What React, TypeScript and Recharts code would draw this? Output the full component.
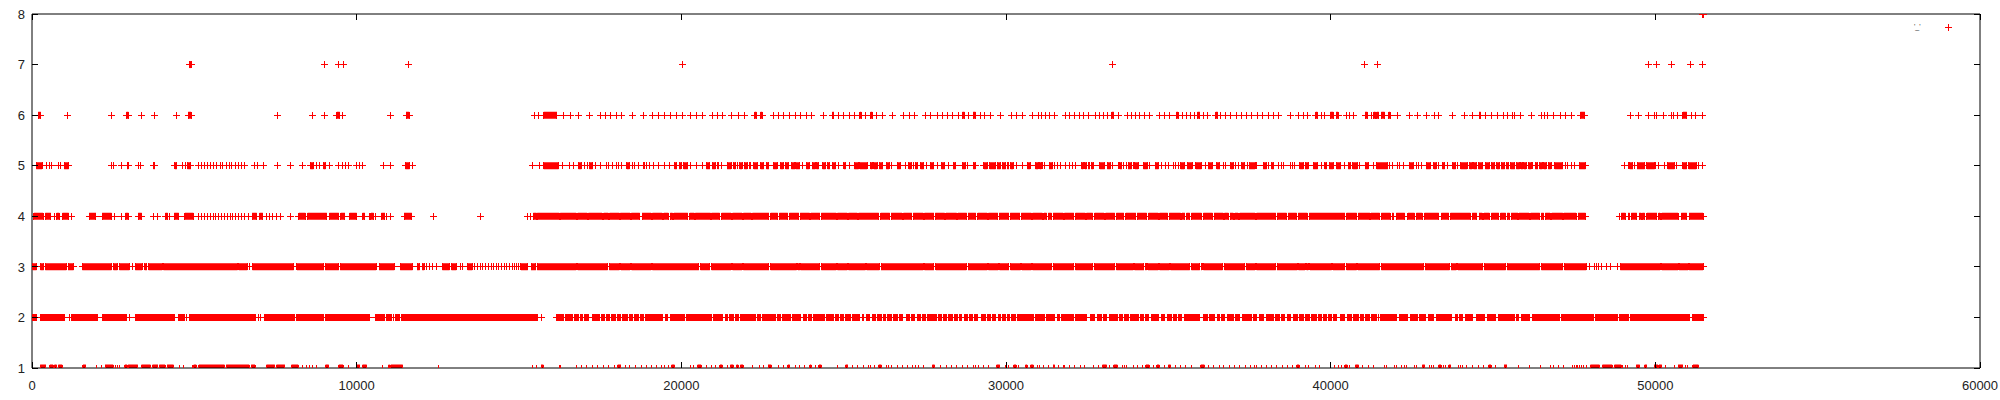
import { LineChart, Line, XAxis, YAxis, Legend } from 'recharts';

type Run = number | [number, number];

// x positions are read in hundreds; a pair is a run of markers packed so close they look solid
const X_UNIT = 100;
const xTicks = [0, 10000, 20000, 30000, 40000, 50000, 60000];
const yTicks = [1, 2, 3, 4, 5, 6, 7, 8];
const legendLabel = "'_'";

const level8: Run[] = [[514.5, 514.9]];

const level7: Run[] = [[48.5, 49.0], 90.1, 94.3, 96.0, 116.0, 200.4, 332.7, 410.5, 414.3, 497.8, 500.4, 505.0, 510.8, 514.5];

const level6: Run[] = [
  [1.9, 2.7], 10.9, 24.5, [29.1, 29.7], 33.7, 37.7, 44.6, [48.1, 49.0], 75.6, 86.3, 90.1, [93.9, 94.8], 95.7,
  110.3, [115.2, 116.2],
  154.7, 155.9, [157.6, 161.7], 163.8, 165.9, 168.2, 171.8, 175.0, 176.7, 178.3, 179.9, 181.7, 185.0, 188.4, 191.2, 193.0,
  194.9, 196.6, 198.4, 200.4, 202.8, 204.6, 206.5,
  209.5, 211.0, 212.6, 215.6, 217.7, 219.5, [222.6, 223.1], [224.4, 224.9], 228.3, 230.0, 231.6, 233.4, 235.2, 236.7, 238.6,
  240.1, 243.9, [246.5, 247.0], 248.3, 250.1, 251.9, 253.3, [255.0, 255.4], 256.7, [258.3, 258.8], 260.1, 261.9, 265.0, 268.5,
  270.4, 271.9, 275.2, 276.8, 278.8, 280.4, 281.9, 283.6, 285.3, [286.6, 287.2], 288.6, [289.9, 290.6], 292.0, 293.4, 295.3,
  298.3, 301.6, 303.2, 305.0, 308.3, 309.9,
  310.9, 312.3, 313.5, 315.0, 318.3, 319.7, 321.0, 322.5, 324.0, 325.3, 327.7, 328.9, 329.9, 331.3, [332.6, 333.2], 334.6,
  337.4, 338.7, 339.9, 341.2, 342.8, 344.3, 347.4, 348.7, 350.3, [352.5, 353.0], 354.3, 355.6, 356.8, 358.2, [359.0, 359.7],
  360.8, 362.1, [364.6, 365.2], 366.2, 367.7, 369.3, 371.0, 372.5, 374.1, 375.6, 377.4, 379.0, 380.8, 382.3, 383.9, 387.5,
  390.2, 391.6, 392.8, [395.4, 395.9], 397.2, 398.2, [399.9, 400.8], [401.7, 402.3], 404.9, 405.9, 407.0, [410.6, 411.3], 412.6,
  [413.3, 413.8], [414.2, 414.8], [415.6, 416.6], [417.9, 418.3], 420.7, 424.3, 426.7, 429.4, 432.1, 433.1, 437.4, 441.2, 443.8,
  [445.7, 446.2], 447.6, 449.5, 451.3, 453.1, 454.6, 455.9, 456.6, 458.4, 461.8, 465.0, 465.9, 466.9, 468.7, 470.7, 472.4,
  474.3, [476.9, 478.3], 492.2, 494.7, 497.8, 499.6, 500.3, 502.6, 505.1, 505.7, 506.7, [508.5, 509.7], 511.1, 512.4, 514.5,
];

const level5: Run[] = [
  [1.3, 3.1], 4.6, 5.4, 6.0, 8.1, 8.7, [9.9, 11.3], 24.5, 25.2, 27.5, [29.3, 29.7], 32.9, 33.5, [37.4, 37.8], [44.0, 44.6],
  46.5, 47.3, [47.9, 48.9], 51.2, 52.2, 53.2, 54.2, 55.1, 56.0, 56.9, 58.0, 58.8, 59.8, 60.7, 61.6, 62.6, 63.6, 64.5, 65.5,
  68.6, 69.4, 71.3, 75.6, 79.5, 83.4, [85.7, 86.7], 87.7, 88.5, [89.8, 90.4], 91.6, 94.3, 95.6, 96.7, 97.6, 100.1, 100.9, 101.8,
  108.3, 110.4, [115.0, 116.3], 117.3,
  154.2, 156.3, [157.6, 162.2], 163.5, 165.5, 166.7, [168.3, 169.2], 170.2, 171.0, [171.7, 172.7], 173.6, 175.1, 177.0, 177.7,
  178.9, 179.9, 180.7, 181.6, [183.2, 184.0], 185.1, 185.7, 186.7, 188.2, 188.8, 189.4, 190.3, 191.3, 193.0, 194.9, 196.5,
  [197.9, 198.6], [199.4, 199.9], [200.7, 202.0], 202.9, 204.6, 206.5,
  [207.7, 208.8], [209.5, 210.5], [211.2, 211.5], 212.3, [214.1, 215.3], [216.2, 216.7], 217.2, [218.0, 218.7], [219.4, 220.3],
  [221.1, 221.3], [222.3, 223.6], [224.4, 225.4], [226.2, 227.0], [228.3, 229.5], [230.5, 231.4], [232.1, 233.1], [233.9, 235.0],
  [235.2, 236.5], 237.2, [238.5, 239.4], [240.3, 241.3], [241.6, 242.3], [243.5, 244.4], [245.1, 245.7], [246.6, 247.5], 248.3,
  [250.1, 250.6], 251.8, [253.3, 254.6], [255.0, 257.2], [258.3, 258.8], [259.3, 260.3], [261.0, 262.1], [263.1, 264.0], 264.6,
  [266.5, 267.5], 269.1, [270.1, 270.8], 271.4, [272.1, 272.7], [273.7, 274.7], 275.4, [276.6, 277.8], 278.8, [280.1, 281.1],
  282.4, [283.7, 284.5], [286.5, 287.5], 288.1, [289.9, 290.6], [293.2, 294.2], [295.0, 296.8], [297.3, 298.3], [298.8, 299.9],
  [300.4, 300.9], [301.4, 302.2], 303.3, 305.0, [306.6, 307.4], [309.1, 309.9],
  [310.4, 310.9], 311.2, 312.0, [313.3, 314.3], 315.0, 315.8, 316.8, 318.4, 319.7, 320.5, 321.5, [323.3, 323.8], [324.3, 324.8],
  [325.3, 325.8], [326.3, 326.9], [328.9, 330.4], [331.2, 332.2], 332.8, 334.6, [335.1, 335.7], 336.3, 337.1, [337.6, 338.7],
  339.2, [339.7, 340.7], [342.3, 343.6], 344.3, [345.9, 347.0], 347.8, 349.2, 350.0, 351.5, 352.3, 353.0, [353.8, 354.9],
  [355.9, 357.3], [358.5, 360.2], 361.6, [362.3, 363.6], [364.9, 365.9], 366.9, 367.7, [369.2, 370.0], 370.6, 371.5,
  [372.6, 373.6], 374.3, [374.9, 376.7], 377.2, [379.2, 380.3], 381.0, [381.8, 382.5], 383.9, 384.9, 385.6, 387.5, 388.3, 389.0,
  [390.5, 391.6], [392.1, 393.1], [394.6, 396.0], 397.2, [398.2, 398.8], [399.6, 400.8], [401.8, 403.1], 404.4, [405.4, 406.1],
  [406.8, 408.2], 409.0, [410.6, 411.6], 413.1,
  [414.2, 417.6], 418.1, 419.0, 420.7, 421.2, 422.4, [424.3, 425.5], 426.4, 427.2, 427.9, [429.4, 430.7], [431.8, 432.5], 433.2,
  [434.4, 435.1], 436.1, [437.6, 438.5], 439.0, [440.0, 442.0], [442.8, 443.6], [444.0, 445.0], [445.5, 446.9], [447.6, 448.9],
  [449.5, 450.6], [451.2, 452.0], [452.5, 453.6], [454.1, 454.9], [455.4, 456.7], [457.2, 458.2], [458.6, 459.2], [459.5, 460.2],
  [461.0, 461.8], 462.3, [463.0, 463.8], [464.4, 465.2], [465.6, 466.4], [467.0, 467.9], [469.0, 471.5], 472.3, 473.1, 474.1,
  475.2, [476.5, 478.5], 490.5, 491.6, [492.1, 493.1], 493.6, [494.4, 496.7], [497.4, 499.8], 500.1, 501.1, 502.9,
  [503.9, 505.9], 506.5, [508.5, 509.7], [510.3, 512.6], 513.4, 514.5,
];

const level4: Run[] = [
  [0.6, 3.4], [4.1, 5.8], 6.8, [7.6, 8.4], [9.4, 11.3], 12.2, [17.6, 19.7], [21.6, 24.5], 25.4, 27.6, [28.8, 29.7],
  [32.7, 33.8], 37.4, 38.8, [41.1, 41.8], 42.5, [43.8, 45.2], [47.1, 49.7], 51.2, 52.2, 53.2, 54.0, 55.1, 55.9, 56.6, 57.4,
  58.5, 59.2, 60.1, 61.0, 61.8, 62.7, 63.7, 64.6, 65.6, 66.6, [67.8, 69.2], [70.1, 71.1], 72.1, 73.0, 74.1, 75.3, 76.6, 79.5,
  [82.2, 84.2], [84.9, 90.8], [91.6, 94.5], [95.1, 96.4], [97.8, 100.0], [101.8, 102.5],
  103.8, [104.4, 105.2], 105.7, [107.6, 108.7], 109.3, 110.5, [114.6, 117.0], 123.7, 138.2,
  152.5, 153.4, [154.4, 155.4], [155.6, 162.4], [162.7, 167.6], [168.1, 171.0], [171.4, 175.6], [176.1, 177.5], [177.9, 180.9],
  [181.2, 184.2], [184.6, 187.2], [187.9, 190.7], [191.1, 194.1], [194.6, 196.0], [196.6, 197.3], [197.7, 202.0], [202.6, 204.0],
  [204.3, 209.0], [209.3, 211.8], [212.4, 215.3], [215.8, 218.7], [219.1, 221.5], [221.9, 227.0], [227.5, 229.7], [230.2, 232.8],
  [233.3, 236.2], [236.6, 239.5], [239.9, 242.7], [243.1, 247.7], [248.1, 251.1], [251.5, 254.2], [254.6, 260.8], [261.4, 264.2],
  [264.6, 268.0], [268.4, 271.0], [271.4, 274.5], [274.9, 277.8], [278.2, 281.1], [281.5, 284.8], [285.2, 287.9], [288.3, 290.7],
  [291.3, 294.2], [294.6, 297.5], [297.9, 300.9], [301.3, 304.3], [304.7, 307.8], [308.2, 311.2],
  [311.7, 312.5], [313.0, 314.0], [314.5, 317.6], [318.0, 320.9], [321.4, 324.4], [324.8, 326.7], [327.3, 330.2], [330.7, 333.5],
  [334.0, 336.3], [336.9, 340.0], [340.4, 343.3], [343.9, 346.9], [347.3, 349.8], [350.3, 353.8], [354.2, 355.1], [355.6, 356.6],
  [357.1, 360.2], [360.8, 363.6], [364.1, 366.9], [367.3, 368.5], [369.0, 370.0], [370.5, 371.5], [372.0, 376.7], [377.2, 383.1],
  [383.5, 386.4], [386.9, 389.5], [390.0, 392.8], [393.4, 404.4], [404.9, 408.0], [408.5, 412.1], [412.4, 415.1],
  [415.6, 418.3], [418.9, 419.4], [420.2, 422.8], [423.8, 425.8], [426.4, 428.2], [428.9, 433.3], [434.1, 436.4], [436.9, 443.0],
  [443.6, 445.0], [445.7, 446.7], [447.2, 448.9], [449.5, 451.8], [452.3, 453.9], [454.4, 455.1], [455.6, 457.7], [458.0, 461.1],
  [461.6, 464.4], [464.9, 465.6], [466.1, 467.6], [468.1, 471.5], [471.8, 475.6], [476.2, 478.5],
  489.0, [489.5, 490.8], [491.6, 492.1], [492.6, 494.3], [495.0, 495.7], [496.0, 496.7], [497.4, 500.5], [501.0, 501.5],
  [502.0, 507.0], [508.0, 509.7], [510.4, 514.7],
];

const level3: Run[] = [
  [0.2, 1.4], [2.6, 3.6], [4.1, 10.6], [11.1, 12.8], [15.5, 24.5], [25.1, 26.3], [26.9, 30.0], 31.0, [31.8, 33.9], [34.7, 35.4],
  [35.9, 40.1], [40.5, 63.3], [63.7, 66.3], 66.9, [67.9, 80.6], [81.6, 89.9], [90.3, 94.5], [94.9, 106.0],
  [106.9, 111.6], [113.4, 117.2], [118.6, 119.4], [120.2, 120.8], 121.4, 122.5, 123.4, 124.7, [126.4, 128.6], [129.2, 130.7],
  132.1, 132.7, [134.2, 135.6], 136.4, 137.3, 138.1, 138.9, 139.7, 140.5, 141.4, 142.2, 143.0, 143.8, 144.6, 145.5, 146.3,
  147.1, 147.9, 148.6, 149.2, 149.8, [150.6, 152.7], [153.7, 155.2], [155.6, 167.6], [168.1, 177.3], [177.8, 180.9],
  [181.4, 184.2], [184.7, 190.7], [191.1, 205.4], [205.9, 208.8],
  [209.3, 215.3], [215.8, 218.7], [219.1, 227.0], [227.5, 235.5], [235.9, 236.5], [236.7, 242.7], [243.1, 247.7], [248.1, 251.1],
  [251.5, 256.7], [257.1, 261.0], [261.5, 274.5], [274.9, 277.8], [278.4, 287.8], [288.3, 294.2], [294.6, 297.6], [298.0, 300.9],
  [301.4, 304.5], [304.9, 307.8], [308.2, 314.0],
  [314.5, 320.9], [321.4, 326.7], [327.3, 333.5], [334.0, 339.2], [339.6, 342.5], [342.9, 343.3], [343.7, 346.9], [347.3, 350.3],
  [350.7, 356.6], [357.1, 359.7], [360.1, 360.4], [360.8, 366.7], [367.3, 373.6], [374.1, 376.7], [377.2, 383.1], [383.5, 389.7],
  [390.1, 392.1], [392.6, 393.1], [393.6, 400.3], [400.7, 404.4], [404.9, 408.0], [408.4, 415.1],
  [415.6, 428.6], [429.1, 436.6], [437.1, 438.7], [439.2, 446.9], [447.3, 453.9], [454.4, 464.4], [464.9, 471.5], [472.0, 478.7],
  479.6, 481.3, 482.0, 482.6, 483.3, 484.9, 486.1, 488.5, [489.2, 501.5], [502.0, 507.0], [507.3, 510.1], [510.4, 514.7],
];

const level2: Run[] = [
  [0.2, 1.4], [2.6, 10.1], 11.4, [12.1, 20.3], [21.6, 24.7], [25.1, 29.2], 29.9, [31.8, 44.0], [45.0, 47.0], 47.7, [48.5, 68.4],
  68.8, 69.7, 70.5, [71.7, 81.0], [81.6, 89.9], [90.3, 103.9],
  [105.7, 108.7], [109.1, 110.3], 110.8, 111.4, 111.9, [112.4, 113.1], [113.9, 115.2], [115.7, 155.7], 157.0,
  161.4, [161.9, 163.6], [164.3, 166.6], [167.0, 168.3], [168.9, 169.6], [170.1, 171.4], [172.5, 173.2], [173.7, 174.8],
  [175.5, 176.3], [176.9, 177.9], [178.5, 179.6], [180.2, 181.4], [182.0, 183.5], [184.0, 185.0], [185.7, 186.7], [187.4, 188.4],
  [189.0, 189.8], [190.2, 191.3], [191.7, 192.7], [193.1, 194.3], [195.0, 195.8], [196.6, 198.4], [198.9, 201.1], [201.5, 203.0],
  [203.4, 204.6], [205.0, 206.4],
  [206.9, 209.2], [210.0, 211.0], [211.5, 212.6], [213.6, 214.3], [214.8, 216.0], [216.7, 217.7], [218.2, 220.3], [220.8, 222.8],
  [223.4, 224.4], [224.9, 226.1], [226.6, 229.0], [229.5, 230.5], [231.1, 232.4], [232.8, 233.6], [234.1, 235.5], [235.9, 236.7],
  [237.5, 238.6], [239.1, 240.1], [240.6, 241.8], [242.1, 244.1], [244.7, 247.0], [247.5, 248.5], [249.0, 250.1], [250.6, 252.1],
  [252.6, 254.9], [255.7, 256.2], [256.9, 258.1], [258.8, 259.8], [260.3, 261.6], [262.2, 263.0], [263.4, 264.6], [265.5, 266.5],
  [267.3, 268.0], [269.3, 270.4], [270.9, 271.9], [272.7, 273.7], [274.2, 275.2], [275.9, 277.0], [277.5, 278.5], [279.1, 280.1],
  [280.7, 281.7], [282.4, 283.4], [284.0, 285.0], [285.6, 286.4], [287.2, 288.1], [288.9, 289.6], [290.3, 291.1], [292.5, 293.7],
  [294.2, 295.3], [295.9, 296.9], [297.6, 298.3], [298.8, 299.9], [300.4, 301.2], [301.8, 303.0], [303.6, 305.0], [305.5, 306.6],
  [307.0, 308.4], [309.1, 310.2],
  [310.6, 312.0], [312.5, 315.0], [315.8, 316.6], [317.1, 320.9], [321.5, 324.8], [326.0, 327.4], [328.1, 329.4], [329.9, 331.0],
  [331.8, 332.8], [333.2, 334.3], [334.9, 335.9], [336.4, 337.6], [338.4, 340.7], [341.5, 342.5], [342.9, 343.8], [344.8, 346.9],
  [347.9, 348.9], [349.8, 351.0], [351.5, 352.5], [353.0, 354.1], [354.9, 356.4], [356.9, 357.7], [358.2, 359.7], [360.8, 362.0],
  [362.8, 364.3], [365.1, 365.9], [366.5, 367.4], [368.1, 370.0], [370.6, 372.0], [372.9, 374.1], [374.4, 375.6], [376.2, 377.2],
  [378.0, 379.2], [380.1, 381.1], [381.6, 382.5], [382.9, 384.2], [384.9, 385.9], [386.6, 387.7], [388.7, 389.7], [390.5, 391.6],
  [392.4, 393.6], [394.1, 395.5], [396.2, 397.2], [397.7, 398.8], [399.3, 400.3], [400.8, 401.8], [402.9, 404.4], [405.2, 406.5],
  [407.0, 408.5], [409.2, 410.0], [410.6, 411.9], [412.6, 414.0],
  414.7, [415.3, 415.9], [416.3, 416.9], [417.3, 420.4], [421.2, 423.8], [424.6, 426.6], [427.4, 429.2], [430.2, 431.8],
  [432.5, 437.2], [438.3, 439.1], [439.7, 440.7], [441.6, 443.8], [444.8, 445.9], [446.3, 447.4], [448.4, 450.8], [451.8, 453.1],
  [453.4, 454.6], [454.9, 456.6], [457.2, 457.9], [458.7, 461.3], [462.3, 463.6], [464.0, 465.2], [465.6, 466.7], [467.1, 468.3],
  [468.7, 469.5], [469.7, 470.5], [471.0, 472.2], [472.6, 477.2], [477.5, 481.0], [481.6, 484.7], [485.1, 488.5], [489.0, 490.2],
  [490.5, 491.6], [492.3, 497.4], [497.7, 499.1], [499.5, 510.4], [511.3, 513.4], [513.6, 514.7],
];

const level1: Run[] = [
  [2.5, 4.3], [5.5, 6.5], [6.9, 7.6], [8.1, 9.3], [15.7, 16.6], 19.9, 21.5, [22.5, 25.0], 25.6, 26.3, 27.0, [28.6, 29.3],
  [29.6, 32.6], [33.7, 36.5], [37.1, 38.8], [39.2, 41.0], [41.6, 43.6], 45.5, 46.6, 49.4, [49.8, 50.6], [51.4, 59.3],
  [59.8, 66.9], [67.5, 68.7], [72.2, 74.8], [75.3, 77.9], [79.9, 82.0], 83.4, 84.4, 85.6, 86.4, 87.7, [90.4, 91.4], [94.5, 95.8],
  97.6, [100.0, 101.0], [101.8, 103.1],
  108.0, [109.8, 110.2], [110.5, 114.2], 125.3, 154.2, 155.4, [156.8, 157.5], 162.4, 162.9, 167.8, 169.3, 170.7, 172.6, 174.2,
  176.0, 177.6, 179.4, [180.4, 181.4], 182.8, 184.1, 186.0, 187.6, 189.2, 190.9, 192.4, 194.0, 194.8, 196.0, [197.0, 197.9],
  202.7, 203.8, [205.0, 206.1],
  207.7, 209.3, 210.5, [211.9, 212.6], 214.1, [215.1, 216.0], [217.0, 217.5], [218.2, 219.0], 221.8, 224.2, 225.4, [226.7, 227.7],
  230.0, 231.6, [232.8, 233.4], 235.2, 236.5, 238.0, [239.6, 240.0], 241.3, [242.4, 243.1], 248.0, [250.6, 251.3], 252.8, 254.2,
  256.2, 257.6, 258.3, 259.6, [260.8, 261.6], 263.1, 263.9, 264.6, 266.5, 268.0, 269.6, 271.3, 272.1, 272.9, 274.7,
  [277.3, 278.0], 279.8, 281.6, 283.1, 284.7, 286.5, 288.1, 289.9, 290.6, 291.5, 293.0, 294.5, [297.1, 298.1], 299.9, 300.9,
  [302.4, 303.1], 304.0, [306.0, 306.5], [307.6, 308.4], 309.6,
  310.2, 311.7, 313.0, [314.5, 315.0], 316.1, 317.6, 318.0, 319.7, 321.2, 322.8, 324.3, 327.1, 328.4, [329.7, 331.0], 331.8,
  [333.2, 334.3], 335.9, 336.6, 337.1, 339.2, 340.4, 342.1, [343.1, 344.1], 345.3, [346.5, 347.2], 348.9, [350.0, 350.7], 352.3,
  353.6, 355.4, 357.2, [360.0, 361.1], 362.3, 364.0, 365.7, 367.1, 368.8, 370.5, 372.0, 373.8, 375.4, 376.4, 377.2, 378.7,
  380.3, 381.8, 383.3, 385.2, 386.6, 388.3, [389.6, 390.3], 392.1, 393.1, 395.2, 396.7, 401.1, 402.3, 403.4, [404.4, 405.1],
  405.9, [407.6, 408.6], 409.8, 411.6, 413.1,
  416.6, 417.3, 419.7, 420.2, 421.7, 422.8, 423.5, 425.8, 426.4, [428.2, 429.0], 430.3, 431.0, 431.7, [433.3, 434.0], 434.6,
  435.4, [436.4, 437.0], 439.3, 440.0, 440.7, 441.7, 443.6, 445.4, 447.1, [448.7, 449.4], 450.7, [453.4, 454.3], 457.9, 461.3,
  464.6, 467.7, 468.5, 470.1, 471.7, 474.4, 475.1, 475.6, 476.1, 476.7, 477.2, 478.0, 478.7, [480.0, 482.8], [483.7, 486.7],
  [487.4, 489.5], 490.0, 490.8, 491.4, [494.1, 495.2], [496.7, 497.4], [499.6, 500.8], [501.1, 502.0], 503.2, 505.9,
  [507.0, 508.5], 509.2, 509.9, [511.6, 513.3],
];

const levels = [
  { level: 1, runs: level1 },
  { level: 2, runs: level2 },
  { level: 3, runs: level3 },
  { level: 4, runs: level4 },
  { level: 5, runs: level5 },
  { level: 6, runs: level6 },
  { level: 7, runs: level7 },
];

const RED = '#ff0000';
const FONT = '"Liberation Sans", Arial, Helvetica, sans-serif';

// each run becomes a segment (both ends get a marker), then a null point to break the path
function toPoints(runs: Run[], level: number) {
  const pts: { x: number; y: number | null }[] = [];
  runs.forEach((r) => {
    const a = typeof r === 'number' ? r : r[0];
    const b = typeof r === 'number' ? r : r[1];
    pts.push({ x: a * X_UNIT, y: level });
    if (b !== a) pts.push({ x: b * X_UNIT, y: level });
    pts.push({ x: b * X_UNIT, y: null });
  });
  return pts;
}

function PlusDot(props: any) {
  const { cx, cy, index, payload } = props;
  if (!payload || payload.y == null || cx == null || cy == null || Number.isNaN(cy)) {
    return <g key={`e-${index}`} />;
  }
  return (
    <path
      key={`p-${index}`}
      d={`M${cx - 3.5},${cy}H${cx + 3.5}M${cx},${cy - 3.5}V${cy + 3.5}`}
      stroke={RED}
      strokeWidth={1}
      fill="none"
      shapeRendering="crispEdges"
    />
  );
}

const labelStyle = { fontFamily: FONT, fontSize: 13, fill: '#222' };

const BottomTick = (p: any) => (
  <g>
    <line x1={p.x} x2={p.x} y1={p.y} y2={p.y - 6} stroke="#000" shapeRendering="crispEdges" />
    <text x={p.x} y={p.y + 22} textAnchor="middle" {...labelStyle}>
      {p.payload.value}
    </text>
  </g>
);

const TopTick = (p: any) => (
  <line x1={p.x} x2={p.x} y1={p.y} y2={p.y + 6} stroke="#000" shapeRendering="crispEdges" />
);

const LeftTick = (p: any) => (
  <g>
    <line x1={p.x} x2={p.x + 6} y1={p.y} y2={p.y} stroke="#000" shapeRendering="crispEdges" />
    <text x={p.x - 7} y={p.y} dy="0.36em" textAnchor="end" {...labelStyle}>
      {p.payload.value}
    </text>
  </g>
);

const RightTick = (p: any) => (
  <line x1={p.x} x2={p.x - 6} y1={p.y} y2={p.y} stroke="#000" shapeRendering="crispEdges" />
);

const KeyBox = () => (
  <div style={{ position: 'relative', width: 56, height: 14 }}>
    <span
      style={{
        position: 'absolute',
        left: 8,
        top: 3,
        fontFamily: FONT,
        fontSize: 7,
        lineHeight: '7px',
        color: '#333',
        whiteSpace: 'nowrap',
      }}
    >
      {legendLabel}
    </span>
    <svg width={9} height={9} style={{ position: 'absolute', left: 37.5, top: 2.5 }}>
      <path d="M1,4.5H8M4.5,1V8" stroke={RED} strokeWidth={1} fill="none" shapeRendering="crispEdges" />
    </svg>
  </div>
);

export default function App() {
  return (
    <div style={{ position: 'absolute', left: 0, top: 0, width: 2000, height: 400, background: '#fff' }}>
      <LineChart width={2000} height={400} margin={{ top: 13, right: 19, bottom: 0, left: 0 }}>
        <XAxis
          type="number"
          dataKey="x"
          domain={[0, 60000]}
          ticks={xTicks}
          allowDataOverflow
          height={32}
          tickSize={0}
          tickMargin={0}
          tickLine={false}
          axisLine={{ stroke: '#000' }}
          tick={BottomTick}
        />
        <XAxis
          xAxisId="top"
          orientation="top"
          type="number"
          dataKey="x"
          domain={[0, 60000]}
          ticks={xTicks}
          allowDataOverflow
          height={1}
          tickSize={0}
          tickMargin={0}
          tickLine={false}
          axisLine={{ stroke: '#000' }}
          tick={TopTick}
        />
        <YAxis
          type="number"
          domain={[1, 8]}
          ticks={yTicks}
          allowDataOverflow
          width={32}
          tickSize={0}
          tickMargin={0}
          tickLine={false}
          axisLine={{ stroke: '#000' }}
          tick={LeftTick}
        />
        <YAxis
          yAxisId="right"
          orientation="right"
          type="number"
          domain={[1, 8]}
          ticks={yTicks}
          allowDataOverflow
          width={1}
          tickSize={0}
          tickMargin={0}
          tickLine={false}
          axisLine={{ stroke: '#000' }}
          tick={RightTick}
        />
        <Legend
          layout="horizontal"
          verticalAlign="middle"
          align="center"
          wrapperStyle={{ left: 1906, top: 20, width: 56, height: 14 }}
          content={KeyBox}
        />
        {levels.map((s) => (
          <Line
            key={s.level}
            data={toPoints(s.runs, s.level)}
            dataKey="y"
            stroke={RED}
            strokeWidth={7}
            dot={PlusDot}
            activeDot={false}
            connectNulls={false}
            isAnimationActive={false}
            legendType="none"
          />
        ))}
        <Line
          xAxisId="top"
          yAxisId="right"
          data={toPoints(level8, 8)}
          dataKey="y"
          stroke={RED}
          strokeWidth={7}
          dot={PlusDot}
          activeDot={false}
          connectNulls={false}
          isAnimationActive={false}
          legendType="none"
        />
      </LineChart>
    </div>
  );
}
